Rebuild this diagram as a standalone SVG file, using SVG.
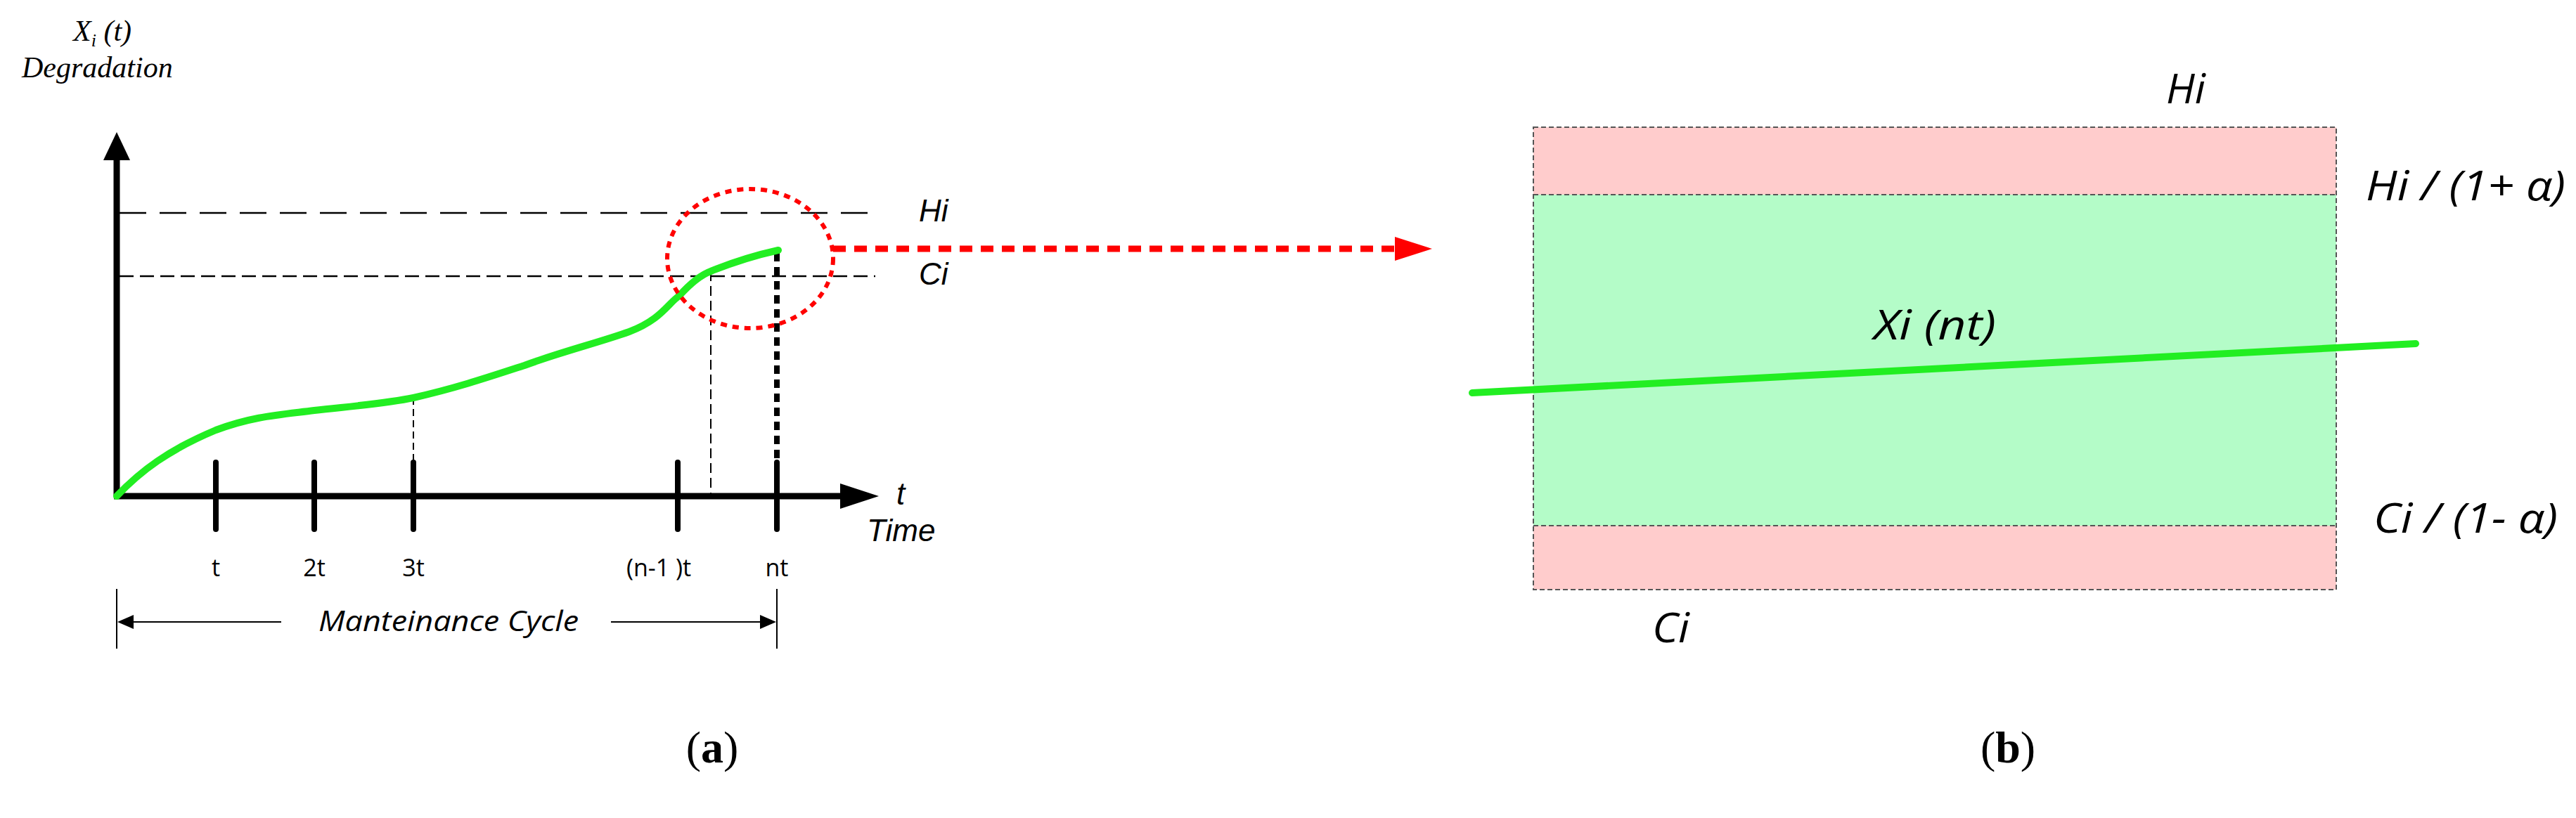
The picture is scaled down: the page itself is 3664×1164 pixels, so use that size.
<svg xmlns="http://www.w3.org/2000/svg" width="3664" height="1164" viewBox="0 0 3664 1164">
<style>
.ax{stroke:#000;stroke-width:9;fill:none}
.tick{stroke:#000;stroke-width:8;stroke-linecap:round}
.thin{stroke:#000;stroke-width:2;fill:none}
.lbl{font-family:"Open Sans","Liberation Sans",sans-serif;font-size:34px;fill:#000;text-anchor:middle}
.ar{font-family:"Liberation Sans",Arial,sans-serif;font-style:italic;font-size:44px;fill:#000}
.cal{font-family:"Open Sans","Liberation Sans",sans-serif;font-style:italic;fill:#000}
.ser{font-family:"Liberation Serif","Times New Roman",serif;font-style:italic;font-size:42px;fill:#000}
.cap{font-family:"Liberation Serif","Times New Roman",serif;font-size:64px;fill:#000;text-anchor:middle}
.grn{stroke:#22ee22;stroke-width:10;fill:none;stroke-linecap:round}
.bd{stroke:#555;stroke-width:2;stroke-dasharray:7 4;fill:none}
</style>
<defs>
<marker id="ah" viewBox="0 0 10 10" refX="0" refY="5" markerWidth="10" markerHeight="10" markerUnits="userSpaceOnUse" orient="auto"><path d="M0,0L10,5L0,10z"/></marker>
</defs>
<rect width="3664" height="1164" fill="#fff"/>
<g id="panel-a">
<g id="axes">
<line class="ax" x1="166" y1="706" x2="166" y2="226"/>
<path d="M147,228 L166,188 L185,228 Z" fill="#000"/>
<line class="ax" x1="162" y1="706" x2="1200" y2="706"/>
<path d="M1195,688 L1250,706 L1195,724 Z" fill="#000"/>
</g>
<g id="thresholds">
<line x1="170" y1="303" x2="1235" y2="303" stroke="#000" stroke-width="2.5" stroke-dasharray="38 19"/>
<line x1="170" y1="393" x2="1245" y2="393" stroke="#000" stroke-width="2.5" stroke-dasharray="20 9"/>
<text class="ar" x="1307" y="315">Hi</text>
<text class="ar" x="1307" y="405">Ci</text>
</g>
<g id="ticks">
<line class="tick" x1="307" y1="658" x2="307" y2="753"/>
<line class="tick" x1="447" y1="658" x2="447" y2="753"/>
<line class="tick" x1="588" y1="658" x2="588" y2="753"/>
<line class="tick" x1="964" y1="658" x2="964" y2="753"/>
<line class="tick" x1="1105" y1="658" x2="1105" y2="753"/>
<text class="lbl" x="307" y="820">t</text>
<text class="lbl" x="447" y="820">2t</text>
<text class="lbl" x="588" y="820">3t</text>
<text class="lbl" x="937" y="820">(n-1 )t</text>
<text class="lbl" x="1105" y="820">nt</text>
</g>
<g id="guides">
<line x1="588" y1="566" x2="588" y2="658" stroke="#000" stroke-width="2" stroke-dasharray="10 6"/>
<line x1="1011" y1="386" x2="1011" y2="706" stroke="#000" stroke-width="2" stroke-dasharray="14 7"/>
<line x1="1105" y1="360" x2="1105" y2="706" stroke="#000" stroke-width="8" stroke-dasharray="12 8"/>
</g>
<g id="curve">
<path class="grn" d="M166,706 C200,670 240,640 307,612 C360,592 400,590 447,584 C500,578 550,574 588,566 C650,552 700,535 746,520 C800,500 850,488 895,472 C940,455 950,432 966,421 C985,400 1000,390 1011,386 C1050,370 1080,362 1107,356"/>
</g>
<g id="ylabel">
<text class="ser" x="104" y="58">X<tspan font-size="26" dy="8">i</tspan><tspan dy="-8"> (t)</tspan></text>
<text class="ser" x="31" y="110">Degradation</text>
</g>
<g id="xlabel">
<text class="ar" x="1275" y="718">t</text>
<text class="ar" x="1233" y="770">Time</text>
</g>
<g id="cycle">
<line class="thin" x1="166" y1="838" x2="166" y2="923"/>
<line class="thin" x1="1105" y1="838" x2="1105" y2="923"/>
<line class="thin" x1="400" y1="885" x2="190" y2="885" marker-end="url(#ah)"/>
<line class="thin" x1="869" y1="885" x2="1081" y2="885" marker-end="url(#ah)"/>
<path d="M167,885 L190,875 L190,895 Z" fill="#000"/>
<path d="M1104,885 L1081,875 L1081,895 Z" fill="#000"/>
<text class="cal" x="638" y="898" font-size="40" text-anchor="middle" textLength="370" lengthAdjust="spacingAndGlyphs">Manteinance Cycle</text>
</g>
<g id="zoom-circle">
<ellipse cx="1067" cy="368" rx="118" ry="99" fill="none" stroke="#ff0000" stroke-width="6" stroke-dasharray="9 8"/>
</g>
<text class="cap" x="1013" y="1085">(<tspan font-weight="bold">a</tspan>)</text>
</g>
<g id="connectors">
<line x1="1185" y1="354" x2="1984" y2="354" stroke="#ff0000" stroke-width="9" stroke-dasharray="18 12"/>
<path d="M1984,337 L2037,354 L1984,371 Z" fill="#ff0000"/>
</g>
<g id="panel-b">
<g id="band-high">
<rect x="2181" y="181" width="1142" height="96" fill="#ffcccc"/>
</g>
<g id="band-ok">
<rect x="2181" y="277" width="1142" height="471" fill="#b4fcc8"/>
</g>
<g id="band-low">
<rect x="2181" y="748" width="1142" height="91" fill="#ffcccc"/>
</g>
<rect class="bd" x="2181" y="181" width="1142" height="658"/>
<line class="bd" x1="2181" y1="277" x2="3323" y2="277"/>
<line class="bd" x1="2181" y1="748" x2="3323" y2="748"/>
<line class="grn" x1="2094" y1="559" x2="3436" y2="489"/>
<text class="cal" x="3081" y="147" font-size="58" textLength="56" lengthAdjust="spacingAndGlyphs">Hi</text>
<text class="cal" x="3365" y="285" font-size="58" textLength="284" lengthAdjust="spacingAndGlyphs">Hi / (1+ α)</text>
<text class="cal" x="2665" y="483" font-size="58" textLength="174" lengthAdjust="spacingAndGlyphs">Xi (nt)</text>
<text class="cal" x="3376" y="758" font-size="58" textLength="262" lengthAdjust="spacingAndGlyphs">Ci / (1- α)</text>
<text class="cal" x="2350" y="914" font-size="58" textLength="53" lengthAdjust="spacingAndGlyphs">Ci</text>
<text class="cap" x="2856" y="1085">(<tspan font-weight="bold">b</tspan>)</text>
</g>
</svg>
